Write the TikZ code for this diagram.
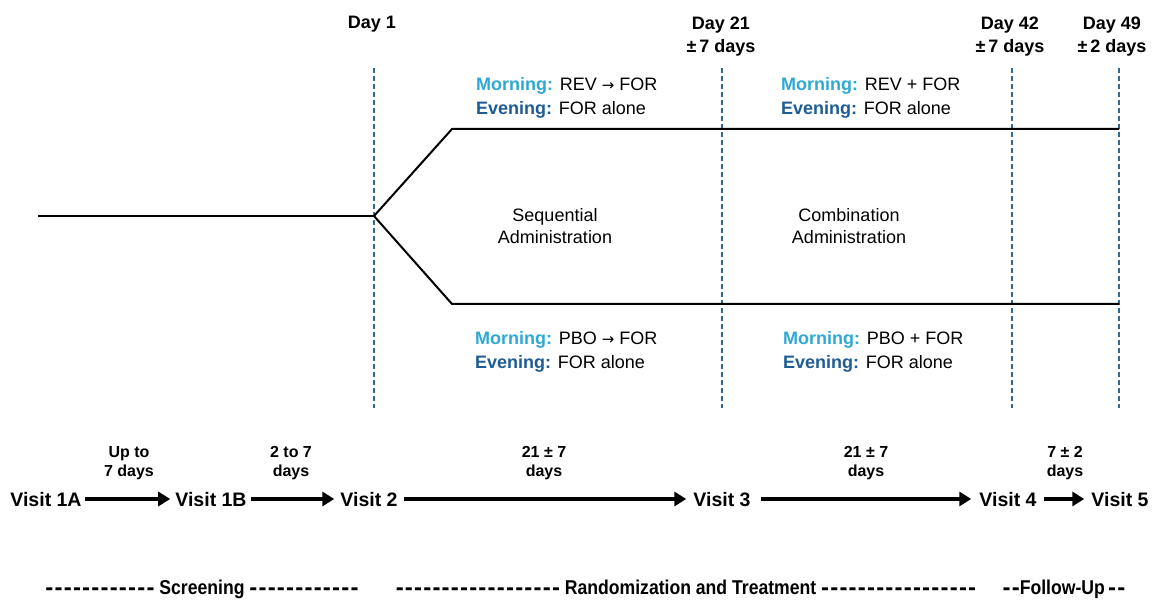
\documentclass[tikz,border=0pt]{standalone}
\usepackage{fontspec}
\setmainfont{Liberation Sans}
\newfontfamily\phasefont[FakeStretch=0.88,Ligatures=TeXOff]{Liberation Sans}
\newfontfamily\dashfont[LetterSpace=5,Ligatures=TeXOff]{Liberation Sans}
\newfontfamily\arrfont{DejaVu Sans}
\usetikzlibrary{arrows.meta}
\definecolor{morn}{HTML}{2EA8D4}
\definecolor{even}{HTML}{1E5C96}
\definecolor{dashc}{HTML}{2F6A9C}
\tikzset{
  daylbl/.style={font=\fontsize{18}{23}\selectfont\bfseries, align=center, anchor=base, inner sep=0pt},
  regimen/.style={font=\fontsize{18}{24}\selectfont, align=left, anchor=base west, inner sep=0pt},
  armlbl/.style={font=\fontsize{18}{22}\selectfont, align=center, anchor=base, inner sep=0pt},
  visit/.style={font=\fontsize{19.5}{22}\selectfont\bfseries, anchor=base, inner sep=0pt},
  durlbl/.style={font=\fontsize{16}{18.5}\selectfont\bfseries, align=center, anchor=base, inner sep=0pt},
  phase/.style={font=\fontsize{20}{22}\phasefont\bfseries, anchor=base, inner sep=0pt},
  vdash/.style={dashc, line width=1.2pt, dash pattern=on 5pt off 3pt},
  arm/.style={line width=2pt, black},
  timeline/.style={line width=4pt, -{Triangle[length=12pt,width=14pt]}},
}
\newcommand{\Mo}{\textcolor{morn}{\bfseries Morning:}}
\newcommand{\Ev}{\textcolor{even}{\bfseries Evening:}}
\newcommand{\rar}{{\arrfont\fontsize{15}{15}\selectfont →}}
\newcommand{\dsh}[1]{\raisebox{-1.5pt}{\dashfont\fontsize{24}{24}\selectfont\bfseries #1}}
\begin{document}
\begin{tikzpicture}[x=1pt,y=-1pt]
\path[use as bounding box] (0,0) rectangle (1156,601);
% day labels (base = last line)
\node[daylbl] (d1) at (372,29) {Day 1};
\node[daylbl] (d21) at (721,53) {Day 21\\\textpm\,7 days};
\node[daylbl] (d42) at (1010,53) {Day 42\\\textpm\,7 days};
\node[daylbl] (d49) at (1112,53) {Day 49\\\textpm\,2 days};
% dashed vertical markers
\coordinate (t1) at (374,68);  \coordinate (b1) at (374,408);
\coordinate (t2) at (722,68);  \coordinate (b2) at (722,408);
\coordinate (t3) at (1012,68); \coordinate (b3) at (1012,408);
\coordinate (t4) at (1119,68); \coordinate (b4) at (1119,408);
\draw[vdash] (t1) -- (b1);
\draw[vdash] (t2) -- (b2);
\draw[vdash] (t3) -- (b3);
\draw[vdash] (t4) -- (b4);
% arms
\coordinate (start) at (38,216);
\coordinate (split) at (374,216);
\coordinate (upk) at (452,129);
\coordinate (lok) at (452,304);
\coordinate (upend) at (1119,129);
\coordinate (loend) at (1119,304);
\draw[arm] (start) -- (split);
\draw[arm] (split) -- (upk) -- (upend);
\draw[arm] (split) -- (lok) -- (loend);
% regimens
\node[regimen] (r1) at (476,115) {\Mo{} REV \rar{} FOR\\\Ev{} FOR alone};
\node[regimen] (r2) at (781,115) {\Mo{} REV + FOR\\\Ev{} FOR alone};
\node[regimen] (r3) at (475,368) {\Mo{} PBO \rar{} FOR\\\Ev{} FOR alone};
\node[regimen] (r4) at (783,368) {\Mo{} PBO + FOR\\\Ev{} FOR alone};
\node[armlbl] (seq) at (555,244) {Sequential\\Administration};
\node[armlbl] (comb) at (849,244) {Combination\\Administration};
% visits
\node[visit] (v1a) at (46,506) {Visit 1A};
\node[visit] (v1b) at (211,506) {Visit 1B};
\node[visit] (v2) at (369,506) {Visit 2};
\node[visit] (v3) at (722,506) {Visit 3};
\node[visit] (v4) at (1008,506) {Visit 4};
\node[visit] (v5) at (1120,506) {Visit 5};
\draw[timeline] ([xshift=3pt,yshift=7pt]v1a.base east) -- ([xshift=-5pt,yshift=7pt]v1b.base west);
\draw[timeline] ([xshift=4pt,yshift=7pt]v1b.base east) -- ([xshift=-6pt,yshift=7pt]v2.base west);
\draw[timeline] ([xshift=6pt,yshift=7pt]v2.base east) -- ([xshift=-7pt,yshift=7pt]v3.base west);
\draw[timeline] ([xshift=10pt,yshift=7pt]v3.base east) -- ([xshift=-8pt,yshift=7pt]v4.base west);
\draw[timeline] ([xshift=7pt,yshift=7pt]v4.base east) -- ([xshift=-7pt,yshift=7pt]v5.base west);
% durations (base = last line)
\node[durlbl] (du1) at (129,476) {Up to\\7 days};
\node[durlbl] (du2) at (291,476) {2 to 7\\days};
\node[durlbl] (du3) at (544,476) {21 \textpm\ 7\\days};
\node[durlbl] (du4) at (866,476) {21 \textpm\ 7\\days};
\node[durlbl] (du5) at (1065,476) {7 \textpm\ 2\\days};
% phases
\node[phase] (ph1) at (202,594) {\dsh{------------} Screening \dsh{------------}};
\node[phase] (ph2) at (686,594) {\dsh{------------------} Randomization and Treatment \dsh{-----------------}};
\node[phase] (ph3) at (1064,594) {\dsh{--}Follow-Up\,\dsh{--}};
\end{tikzpicture}
\end{document}
